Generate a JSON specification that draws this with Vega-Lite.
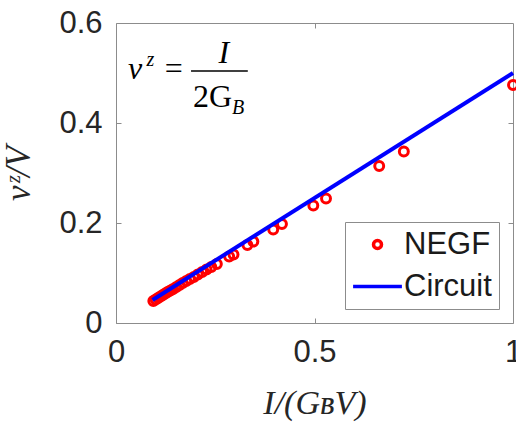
{
  "$schema": "https://vega.github.io/schema/vega-lite/v6.json",
  "width": 397,
  "height": 300,
  "autosize": {"type": "none"},
  "padding": {"left": 116, "top": 23, "right": 3, "bottom": 109},
  "background": "white",
  "config": {
    "view": {"stroke": "#8c8c8c", "strokeWidth": 1},
    "axis": {
      "grid": false,
      "domain": false,
      "labelFlush": false,
      "labelOverlap": false,
      "labelFont": "Liberation Sans",
      "labelFontSize": 31,
      "labelColor": "#262626",
      "tickColor": "#8c8c8c",
      "tickSize": -5,
      "titleFont": "Liberation Serif",
      "titleFontStyle": "italic",
      "titleFontWeight": "normal",
      "titleFontSize": 32,
      "titleColor": "#262626"
    }
  },
  "datasets": {
    "negf": [
      {"x": 0.094, "y": 0.044, "series": "NEGF"},
      {"x": 0.1, "y": 0.047, "series": "NEGF"},
      {"x": 0.106, "y": 0.050, "series": "NEGF"},
      {"x": 0.112, "y": 0.053, "series": "NEGF"},
      {"x": 0.118, "y": 0.056, "series": "NEGF"},
      {"x": 0.124, "y": 0.059, "series": "NEGF"},
      {"x": 0.13, "y": 0.062, "series": "NEGF"},
      {"x": 0.137, "y": 0.065, "series": "NEGF"},
      {"x": 0.144, "y": 0.068, "series": "NEGF"},
      {"x": 0.152, "y": 0.072, "series": "NEGF"},
      {"x": 0.16, "y": 0.076, "series": "NEGF"},
      {"x": 0.168, "y": 0.080, "series": "NEGF"},
      {"x": 0.177, "y": 0.084, "series": "NEGF"},
      {"x": 0.186, "y": 0.088, "series": "NEGF"},
      {"x": 0.196, "y": 0.092, "series": "NEGF"},
      {"x": 0.206, "y": 0.097, "series": "NEGF"},
      {"x": 0.217, "y": 0.102, "series": "NEGF"},
      {"x": 0.228, "y": 0.107, "series": "NEGF"},
      {"x": 0.24, "y": 0.112, "series": "NEGF"},
      {"x": 0.254, "y": 0.118, "series": "NEGF"},
      {"x": 0.285, "y": 0.133, "series": "NEGF"},
      {"x": 0.296, "y": 0.137, "series": "NEGF"},
      {"x": 0.331, "y": 0.156, "series": "NEGF"},
      {"x": 0.346, "y": 0.163, "series": "NEGF"},
      {"x": 0.396, "y": 0.187, "series": "NEGF"},
      {"x": 0.418, "y": 0.198, "series": "NEGF"},
      {"x": 0.497, "y": 0.235, "series": "NEGF"},
      {"x": 0.529, "y": 0.249, "series": "NEGF"},
      {"x": 0.663, "y": 0.314, "series": "NEGF"},
      {"x": 0.725, "y": 0.343, "series": "NEGF"},
      {"x": 1.0, "y": 0.476, "series": "NEGF"}
    ],
    "circuit": [
      {"x": 0.092, "y": 0.046, "series": "Circuit"},
      {"x": 1.0, "y": 0.5, "series": "Circuit"}
    ],
    "bar": [
      {"x": 0.189, "x2": 0.332, "y": 0.504}
    ],
    "italicMain": [
      {"t": "v", "x": 0.030, "y": 0.488},
      {"t": "I", "x": 0.258, "y": 0.52}
    ],
    "italicSmall": [
      {"t": "z", "x": 0.077, "y": 0.515},
      {"t": "B", "x": 0.292, "y": 0.418}
    ],
    "upright": [
      {"t": "=", "x": 0.123, "y": 0.488},
      {"t": "2G", "x": 0.194, "y": 0.432}
    ]
  },
  "layer": [
    {
      "layer": [
        {
          "data": {"name": "negf"},
          "mark": {"type": "point", "filled": false, "strokeWidth": 3, "size": 80, "opacity": 1},
          "encoding": {
            "x": {
              "field": "x", "type": "quantitative",
              "scale": {"domain": [0, 1]},
              "axis": {"values": [0, 0.5, 1], "format": "~g", "title": "I/(GʙV)", "titleFontSize": 34, "labelPadding": 19, "titlePadding": 19}
            },
            "y": {
              "field": "y", "type": "quantitative",
              "scale": {"domain": [0, 0.6]},
              "axis": {"values": [0, 0.2, 0.4, 0.6], "format": "~g", "title": "vᶻ/V", "titleFontSize": 35, "labelPadding": 19, "titlePadding": 22}
            },
            "color": {
              "field": "series", "type": "nominal",
              "scale": {"domain": ["NEGF", "Circuit"], "range": ["#ff0000", "#0000ff"]},
              "legend": {
                "title": null,
                "orient": "bottom-right",
                "offset": 14,
                "fillColor": "white",
                "strokeColor": "#8c8c8c",
                "padding": 7,
                "labelFont": "Liberation Sans",
                "labelFontSize": 31,
                "labelColor": "#1a1a1a",
                "symbolType": {"expr": "datum.value === 'Circuit' ? 'M-6.1,0H6.1' : 'circle'"},
                "symbolSize": 64,
                "symbolStrokeWidth": 3.5,
                "symbolFillColor": "transparent",
                "symbolOpacity": 1,
                "symbolOffset": 10,
                "labelOffset": 11,
                "rowPadding": 10
              }
            }
          }
        },
        {
          "data": {"name": "circuit"},
          "mark": {"type": "line", "strokeWidth": 4},
          "encoding": {
            "x": {"field": "x", "type": "quantitative"},
            "y": {"field": "y", "type": "quantitative"},
            "color": {"field": "series", "type": "nominal"}
          }
        },
        {
          "data": {"name": "italicMain"},
          "mark": {"type": "text", "font": "Liberation Serif", "fontStyle": "italic", "fontSize": 32, "align": "left", "baseline": "alphabetic", "color": "#000000"},
          "encoding": {
            "x": {"field": "x", "type": "quantitative"},
            "y": {"field": "y", "type": "quantitative"},
            "text": {"field": "t"}
          }
        },
        {
          "data": {"name": "italicSmall"},
          "mark": {"type": "text", "font": "Liberation Serif", "fontStyle": "italic", "fontSize": 20, "align": "left", "baseline": "alphabetic", "color": "#000000"},
          "encoding": {
            "x": {"field": "x", "type": "quantitative"},
            "y": {"field": "y", "type": "quantitative"},
            "text": {"field": "t"}
          }
        },
        {
          "data": {"name": "upright"},
          "mark": {"type": "text", "font": "Liberation Serif", "fontSize": 32, "align": "left", "baseline": "alphabetic", "color": "#000000"},
          "encoding": {
            "x": {"field": "x", "type": "quantitative"},
            "y": {"field": "y", "type": "quantitative"},
            "text": {"field": "t"}
          }
        }
      ]
    },
    {
      "data": {"name": "bar"},
      "mark": {"type": "rule", "strokeWidth": 1.5, "color": "#000000"},
      "encoding": {
        "x": {"field": "x", "type": "quantitative", "axis": {"orient": "top", "values": [0.5], "labels": false, "title": null}},
        "x2": {"field": "x2"},
        "y": {"field": "y", "type": "quantitative", "axis": {"orient": "right", "values": [0.2, 0.4], "labels": false, "title": null}}
      }
    }
  ],
  "resolve": {"axis": {"x": "independent", "y": "independent"}}
}
